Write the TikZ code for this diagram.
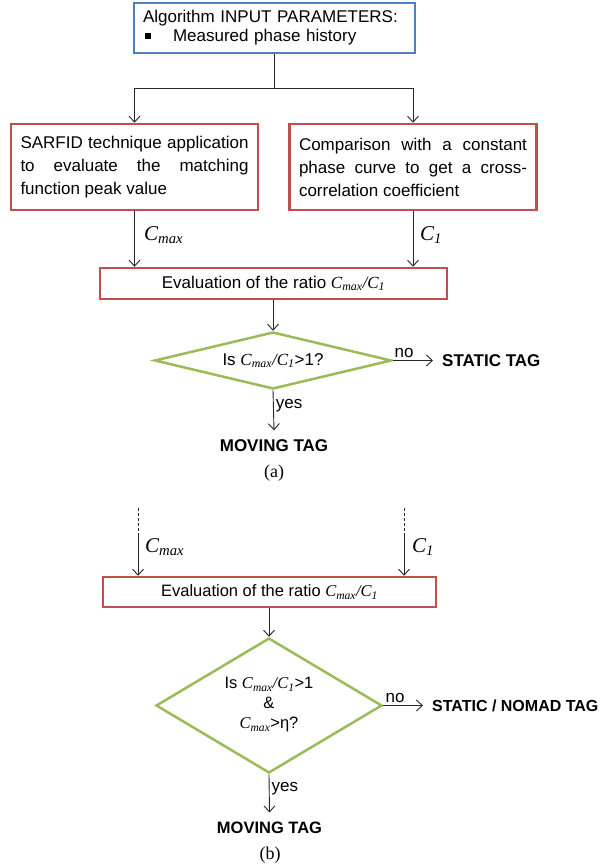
\documentclass[tikz,border=0pt]{standalone}
\usepackage{fontspec}
\setmainfont{Liberation Sans}
\newfontfamily\tnr{Liberation Serif}
\usetikzlibrary{arrows.meta,shapes.geometric}
\definecolor{cblue}{HTML}{4F81BD}
\definecolor{cred}{HTML}{C0504D}
\definecolor{cgreen}{HTML}{9BBB59}
\definecolor{clink}{HTML}{262626}
\newcommand{\Cmx}{{\tnr\itshape C\textsubscript{max}}}
\newcommand{\Cone}{{\tnr\itshape C\textsubscript{1}}}
\newcommand{\Rto}{{\tnr\itshape C\textsubscript{max}/C\textsubscript{1}}}
\hyphenpenalty=10000
\begin{document}
\begin{tikzpicture}[x=1pt,y=-1pt,
  every node/.style={font=\fontsize{17}{23}\selectfont, text=black},
  topbox/.style={draw=cblue, line width=2.5pt, rectangle, inner xsep=9pt, inner ysep=0pt, minimum width=281pt, minimum height=50pt, text width=263pt, align=left, font=\fontsize{17}{19}\selectfont},
  procbox/.style={draw=cred, line width=2.5pt, rectangle, inner xsep=9.5pt, inner ysep=0pt, text width=228pt, minimum height=86pt, align=justify},
  evalbox/.style={draw=cred, line width=2.5pt, rectangle, inner sep=0pt},
  decbox/.style={draw=cgreen, line width=2.5pt, diamond, inner sep=0pt},
  arr/.style={draw=clink, line width=0.9pt, -{Straight Barb[length=6pt,width=11pt]}},
  plainln/.style={draw=clink, line width=0.9pt},
  resulttxt/.style={font=\fontsize{17}{20}\selectfont\bfseries, inner xsep=9pt, inner ysep=9.5pt},
  labtxt/.style={font=\fontsize{21}{24}\selectfont, inner sep=0pt, anchor=base west},
  captxt/.style={font=\tnr\fontsize{18}{20}\selectfont, inner sep=0pt},
  smalllab/.style={inner sep=2pt}
]
\useasboundingbox (0,0) rectangle (602,867);

% ---------------- (a) ----------------
\node[topbox] (inp) at (274.5,28) {Algorithm INPUT PARAMETERS:\\\hspace*{2pt}\rule[3pt]{6pt}{6pt}\hspace*{22pt}Measured phase history};
\coordinate (j) at (274.5,88);
\node[procbox] (sar) at (134.5,167) {SARFID technique application\linebreak to evaluate the matching\linebreak function peak value};
\node[procbox] (cmp) at (413,167) {Comparison with a constant\linebreak phase curve to get a cross-\linebreak correlation coefficient};
\node[evalbox, minimum width=347pt, minimum height=31pt] (ev1) at (273.5,283.5) {Evaluation of the ratio \Rto};
\node[decbox, minimum width=237pt, minimum height=57pt] (d1) at (273,360.5) {};
\node (d1t) at (273,360.5) {Is \Rto>1?};
\node[resulttxt, anchor=west] (st1) at (433,360.5) {STATIC TAG};
\node[resulttxt] (mv1) at (274,446) {MOVING TAG};
\node[captxt] (ca) at (274,473) {(a)};

\draw[plainln] (inp.south) -- (j);
\draw[arr] (j) -| (sar.north);
\draw[arr] (j) -| (cmp.north);
\draw[arr] (sar.south) -- (sar.south |- ev1.north);
\draw[arr] (cmp.south) -- (cmp.south |- ev1.north);
\node[labtxt] (lcm1) at (144,240) {\Cmx};
\node[labtxt] (lc11) at (420,240) {\Cone};
\draw[arr] (ev1.south -| d1.north) -- (d1.north);
\draw[arr] (d1.east) -- node[above, pos=0.28, smalllab] {no} (st1.west);
\draw[arr] (d1.south) -- node[right, pos=0.39, smalllab] {yes} (mv1.north);

% ---------------- (b) ----------------
\node[evalbox, minimum width=333pt, minimum height=30pt, font=\fontsize{16.5}{20}\selectfont] (ev2) at (269.5,592) {Evaluation of the ratio \Rto};
\coordinate (ta) at (138,508);
\coordinate (tb) at (138,533);
\coordinate (tc) at (404,508);
\coordinate (td) at (404,533);
\draw[plainln, dash pattern=on 3pt off 2pt] (ta) -- (tb);
\draw[plainln, dash pattern=on 3pt off 2pt] (tc) -- (td);
\draw[arr] (tb) -- (tb |- ev2.north);
\draw[arr] (td) -- (td |- ev2.north);
\node[labtxt] (lcm2) at (145,552) {\Cmx};
\node[labtxt] (lc12) at (412,552) {\Cone};
\node[decbox, minimum width=226pt, minimum height=135pt] (d2) at (269,705.5) {};
\node[align=center, font=\fontsize{16.5}{20}\selectfont] (d2t) at (269,705) {Is \Rto>1\\\&\\{\tnr\itshape C\textsubscript{max}}>η?};
\node[resulttxt, anchor=west, font=\fontsize{16}{20}\selectfont\bfseries] (st2) at (423,705.5) {STATIC / NOMAD TAG};
\node[resulttxt, font=\fontsize{16.5}{20}\selectfont\bfseries] (mv2) at (269.5,828) {MOVING TAG};
\node[captxt] (cb) at (270,855) {(b)};
\draw[arr] (ev2.south -| d2.north) -- (d2.north);
\draw[arr] (d2.east) -- node[above, pos=0.3, smalllab] {no} (st2.west);
\draw[arr] (d2.south) -- node[right, pos=0.375, smalllab] {yes} (mv2.north);
\end{tikzpicture}
\end{document}
